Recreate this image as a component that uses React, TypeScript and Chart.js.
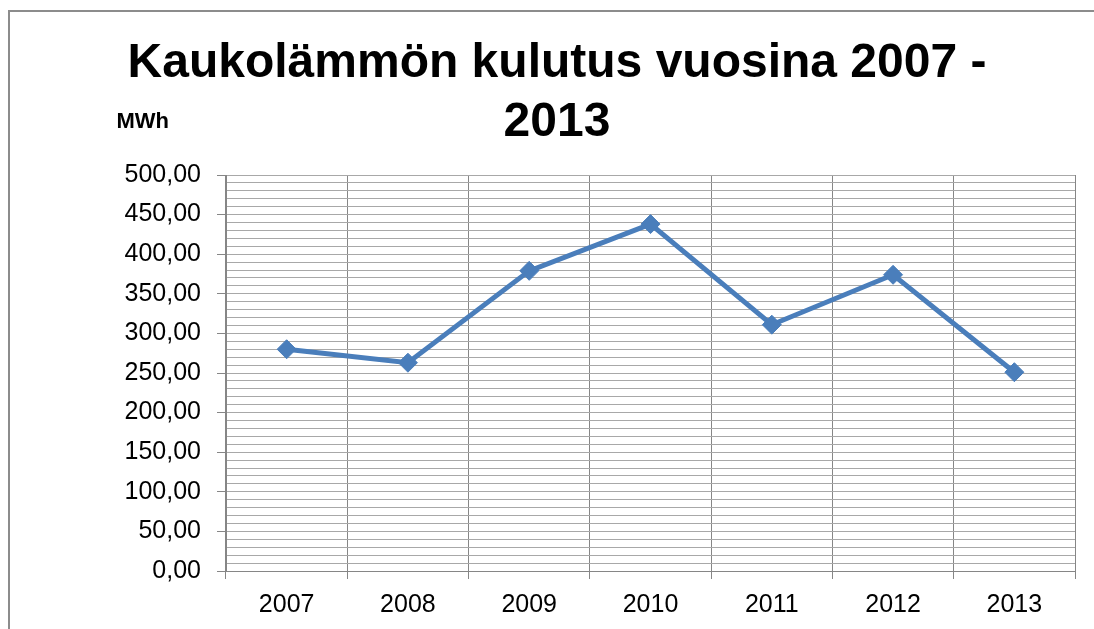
import React, { useEffect, useRef } from "react";
import { Chart, registerables } from "chart.js";

Chart.register(...registerables);

const categories = ["2007", "2008", "2009", "2010", "2011", "2012", "2013"];
const consumption = [280, 263, 379, 438, 311, 374, 251];
const titleLines = ["Kaukolämmön kulutus vuosina 2007 -", "2013"];
const unitLabel = "MWh";
const yMin = 0;
const yMax = 500;
const minorStep = 10;
const majorStep = 50;

const FONT = '"Liberation Sans", Arial, sans-serif';

const decorPlugin = {
  id: "decor",
  beforeDraw(chart: any) {
    const ctx = chart.ctx;
    ctx.save();
    ctx.strokeStyle = "#8c8c8c";
    ctx.lineWidth = 2;
    ctx.strokeRect(9, 11, 3000, 3000);
    ctx.restore();
  },
  afterDraw(chart: any) {
    const ctx = chart.ctx;
    ctx.save();
    ctx.fillStyle = "#000";
    ctx.textAlign = "center";
    ctx.textBaseline = "alphabetic";
    ctx.font = `bold 48px ${FONT}`;
    ctx.fillText(titleLines[0], 557, 77);
    ctx.fillText(titleLines[1], 557, 136);
    ctx.font = `bold 22px ${FONT}`;
    ctx.textAlign = "right";
    ctx.fillText(unitLabel, 169, 128);
    ctx.restore();
  },
};

export default function App() {
  const ref = useRef<HTMLCanvasElement | null>(null);

  useEffect(() => {
    if (!ref.current) return;
    const chart = new Chart(ref.current, {
      type: "line",
      data: {
        labels: categories,
        datasets: [
          {
            label: "Kaukolämpö",
            data: consumption,
            borderColor: "#4a7ebb",
            backgroundColor: "#4a7ebb",
            borderWidth: 5,
            tension: 0,
            pointStyle: "rectRot",
            pointRadius: 9.5,
            pointBorderWidth: 1,
            pointBackgroundColor: "#4a7ebb",
            pointBorderColor: "#4a7ebb",
          },
        ],
      },
      options: {
        responsive: false,
        animation: false,
        devicePixelRatio: 1,
        layout: { padding: { top: 175, right: 19, left: 0, bottom: 0 } },
        plugins: {
          legend: { display: false },
          title: { display: false },
          tooltip: { enabled: false },
        },
        scales: {
          x: {
            offset: true,
            grid: {
              offset: true,
              color: "#868686",
              lineWidth: 1,
              drawTicks: true,
              tickLength: 8,
              tickColor: "#868686",
            },
            border: { display: true, color: "#868686", width: 1 },
            ticks: {
              color: "#000",
              font: { family: FONT, size: 25 },
              padding: 11,
              maxRotation: 0,
            },
            afterFit(scale: any) {
              scale.height = 58;
            },
          },
          y: {
            min: yMin,
            max: yMax,
            grid: {
              color: "#a8a8a8",
              lineWidth: 1,
              tickLength: 9,
              tickColor: (ctx: any) =>
                ctx.tick && ctx.tick.value % majorStep === 0 ? "#868686" : "rgba(0,0,0,0)",
            },
            border: { display: true, color: "#868686", width: 1 },
            ticks: {
              stepSize: minorStep,
              autoSkip: false,
              color: "#000",
              font: { family: FONT, size: 25 },
              padding: 16,
              callback: (v: any) =>
                Number(v) % majorStep === 0 ? Number(v).toFixed(2).replace(".", ",") : "",
            },
            afterFit(scale: any) {
              scale.width = 226;
            },
          },
        },
      },
      plugins: [decorPlugin],
    });
    return () => chart.destroy();
  }, []);

  return (
    <div style={{ position: "fixed", left: 0, top: 0, width: 1094, height: 629, background: "#fff" }}>
      <canvas ref={ref} width={1094} height={629} style={{ width: 1094, height: 629 }} />
    </div>
  );
}
